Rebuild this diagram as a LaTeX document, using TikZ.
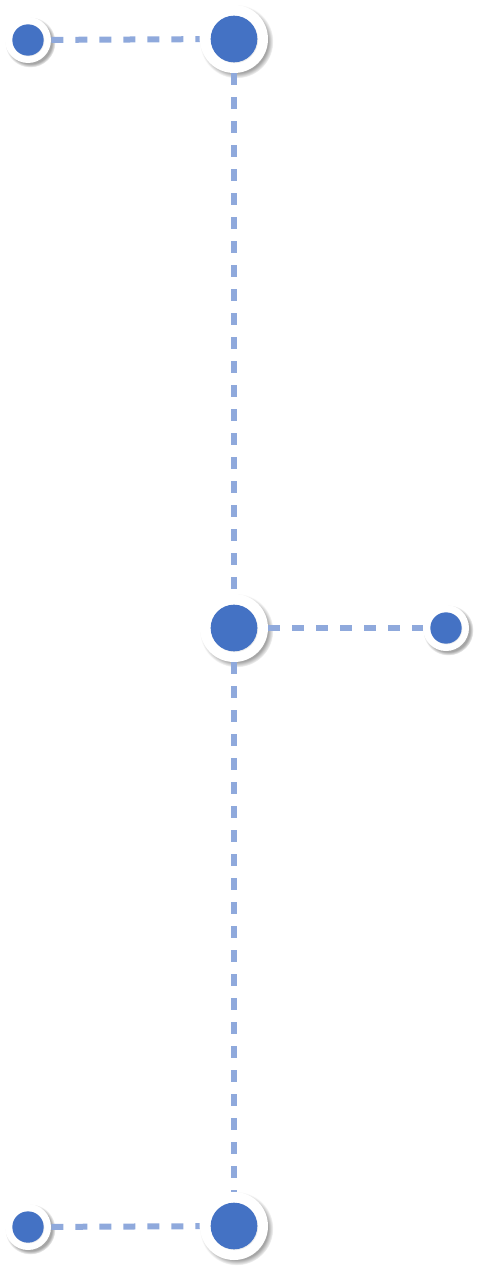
\documentclass[tikz,border=0pt]{standalone}
\usepackage{tikz}
\usetikzlibrary{shadows}
\definecolor{dotblue}{HTML}{4472C4}
\definecolor{linkblue}{HTML}{8FA9DC}
\tikzstyle{hub} = [circle, fill=white, minimum size=51pt, inner sep=0pt,
  circular drop shadow={shadow xshift=1.8pt, shadow yshift=-1.8pt, shadow scale=1.08, opacity=.7}]
\tikzstyle{leaf} = [circle, fill=white, minimum size=34.5pt, inner sep=0pt,
  circular drop shadow={shadow xshift=1.5pt, shadow yshift=-1.5pt, shadow scale=1.1, opacity=.7}]
\tikzstyle{bigdot} = [circle, fill=dotblue, minimum size=35pt, inner sep=0pt,
  drop shadow={shadow xshift=.6pt, shadow yshift=-.6pt, opacity=.15}]
\tikzstyle{smalldot} = [circle, fill=dotblue, minimum size=23.5pt, inner sep=0pt,
  drop shadow={shadow xshift=.5pt, shadow yshift=-.5pt, opacity=.15}]
\tikzstyle{link} = [draw=linkblue, line width=4.5pt, dash pattern=on 9pt off 9pt]

\begin{document}
\begin{tikzpicture}[x=0.75pt, y=-0.75pt]
  \useasboundingbox (0,0) rectangle (477,1269);
  % Place nodes
  \node [hub] (top) at (234,39) {};
  \node [hub] (mid) at (234,628) {};
  \node [hub] (bottom) at (234,1226) {};
  \node [leaf] (topleft) at (28,40) {};
  \node [leaf] (midright) at (446,628) {};
  \node [leaf] (bottomleft) at (28,1227) {};

  \node [bigdot] at (top) {};
  \node [bigdot] at (mid) {};
  \node [bigdot] at (bottom) {};
  \node [smalldot] at (topleft) {};
  \node [smalldot] at (midright) {};
  \node [smalldot] at (bottomleft) {};

  % Draw edges
  \path [link] (topleft) -- (top);
  \path [link] (top) -- (mid);
  \path [link] (mid) -- (midright);
  \path [link] (mid) -- (bottom);
  \path [link] (bottomleft) -- (bottom);
\end{tikzpicture}
\end{document}
